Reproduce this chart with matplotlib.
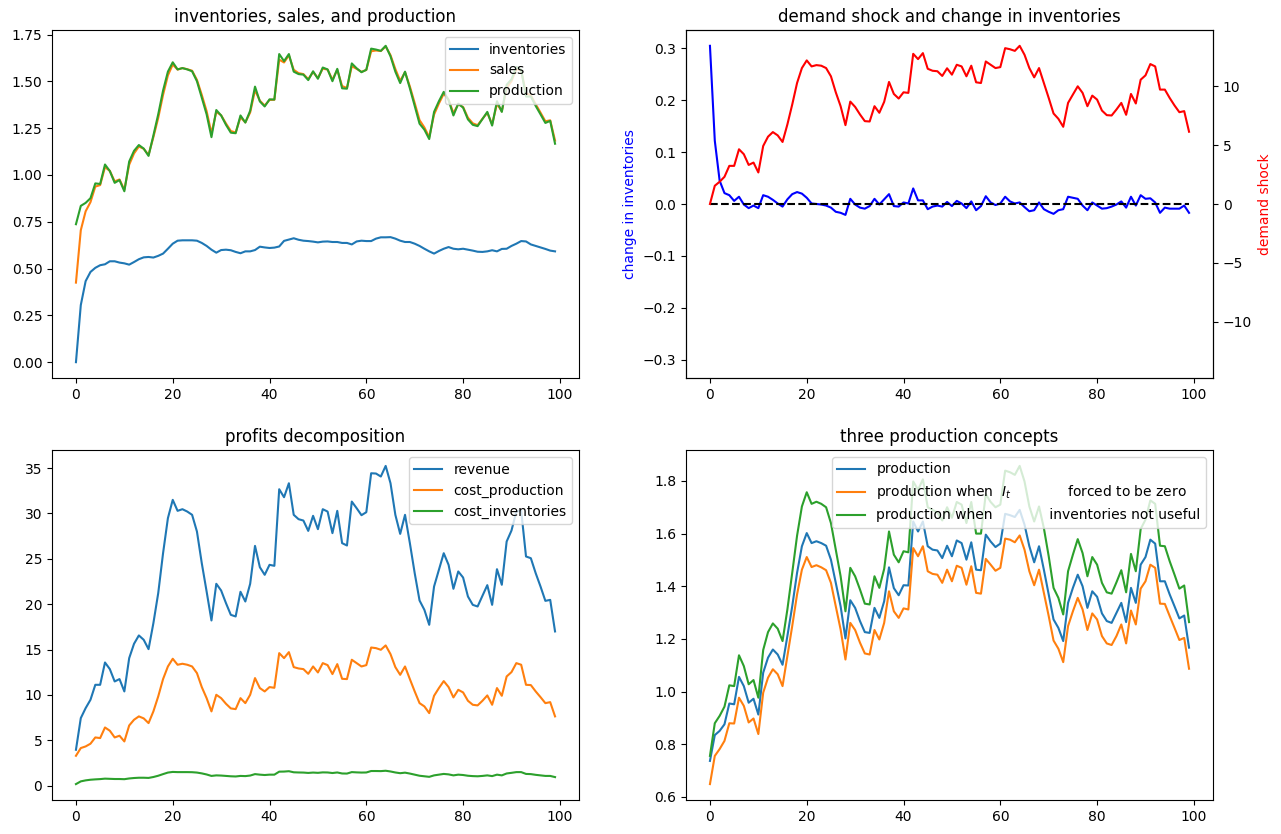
import matplotlib
matplotlib.use("Agg")
import matplotlib.pyplot as plt
import numpy as np

t = np.arange(100)

production = [
    0.737, 0.835, 0.851, 0.876, 0.955, 0.952, 1.056, 1.021, 0.958, 0.973,
    0.913, 1.072, 1.129, 1.160, 1.141, 1.102, 1.211, 1.324, 1.451, 1.552,
    1.602, 1.564, 1.571, 1.564, 1.554, 1.501, 1.413, 1.324, 1.202, 1.347,
    1.318, 1.268, 1.226, 1.223, 1.318, 1.280, 1.343, 1.472, 1.393, 1.366,
    1.404, 1.403, 1.646, 1.608, 1.646, 1.552, 1.539, 1.536, 1.507, 1.554,
    1.514, 1.574, 1.564, 1.501, 1.567, 1.463, 1.461, 1.596, 1.570, 1.549,
    1.562, 1.675, 1.670, 1.663, 1.690, 1.634, 1.552, 1.491, 1.552, 1.463,
    1.369, 1.274, 1.242, 1.192, 1.337, 1.394, 1.444, 1.400, 1.318, 1.381,
    1.360, 1.297, 1.268, 1.261, 1.299, 1.337, 1.264, 1.394, 1.337, 1.482,
    1.511, 1.577, 1.562, 1.419, 1.419, 1.369, 1.324, 1.278, 1.289, 1.167]

sales = [
    0.425, 0.705, 0.806, 0.855, 0.938, 0.946, 1.042, 1.022, 0.966, 0.976,
    0.921, 1.055, 1.115, 1.152, 1.140, 1.107, 1.202, 1.305, 1.428, 1.532,
    1.590, 1.563, 1.571, 1.565, 1.557, 1.508, 1.428, 1.341, 1.223, 1.337,
    1.319, 1.275, 1.235, 1.227, 1.308, 1.281, 1.334, 1.453, 1.397, 1.371,
    1.401, 1.402, 1.616, 1.601, 1.639, 1.562, 1.544, 1.539, 1.512, 1.550,
    1.518, 1.568, 1.563, 1.509, 1.562, 1.475, 1.465, 1.581, 1.567, 1.551,
    1.561, 1.661, 1.665, 1.662, 1.687, 1.640, 1.566, 1.503, 1.549, 1.473,
    1.384, 1.293, 1.254, 1.202, 1.323, 1.382, 1.434, 1.403, 1.330, 1.378,
    1.363, 1.306, 1.276, 1.266, 1.300, 1.332, 1.271, 1.380, 1.340, 1.465,
    1.501, 1.566, 1.559, 1.436, 1.426, 1.378, 1.333, 1.287, 1.292, 1.184]

inventories = [
    0.000, 0.305, 0.433, 0.482, 0.504, 0.518, 0.523, 0.539, 0.539, 0.532,
    0.528, 0.521, 0.535, 0.550, 0.560, 0.562, 0.559, 0.568, 0.580, 0.606,
    0.633, 0.649, 0.651, 0.651, 0.651, 0.649, 0.637, 0.621, 0.601, 0.585,
    0.599, 0.601, 0.598, 0.589, 0.582, 0.592, 0.592, 0.599, 0.617, 0.613,
    0.610, 0.612, 0.618, 0.648, 0.655, 0.662, 0.654, 0.649, 0.647, 0.644,
    0.640, 0.644, 0.645, 0.642, 0.642, 0.637, 0.637, 0.629, 0.645, 0.649,
    0.647, 0.647, 0.660, 0.667, 0.667, 0.668, 0.660, 0.649, 0.642, 0.642,
    0.633, 0.621, 0.606, 0.592, 0.580, 0.594, 0.606, 0.615, 0.606, 0.603,
    0.606, 0.601, 0.596, 0.590, 0.589, 0.592, 0.598, 0.592, 0.605, 0.606,
    0.621, 0.633, 0.647, 0.645, 0.629, 0.621, 0.613, 0.605, 0.596, 0.592]

change_inventories = [
    0.305, 0.122, 0.045, 0.021, 0.017, 0.006, 0.014, -0.001, -0.008, -0.003,
    -0.008, 0.017, 0.014, 0.008, 0.001, -0.005, 0.009, 0.019, 0.023, 0.020,
    0.012, 0.001, 0.000, -0.001, -0.003, -0.007, -0.015, -0.017, -0.021, 0.010,
    -0.001, -0.007, -0.009, -0.004, 0.010, -0.001, 0.009, 0.019, -0.004, -0.005,
    0.003, 0.001, 0.030, 0.007, 0.007, -0.010, -0.005, -0.003, -0.005, 0.004,
    -0.004, 0.006, 0.001, -0.008, 0.005, -0.012, -0.004, 0.015, 0.003, -0.002,
    0.001, 0.014, 0.005, 0.001, 0.003, -0.006, -0.014, -0.012, 0.003, -0.010,
    -0.015, -0.019, -0.012, -0.010, 0.014, 0.012, 0.010, -0.003, -0.012, 0.003,
    -0.003, -0.009, -0.008, -0.005, -0.001, 0.005, -0.007, 0.014, -0.003, 0.017,
    0.010, 0.011, 0.003, -0.017, -0.007, -0.009, -0.009, -0.009, -0.003, -0.017]

demand_shock = [
    0.0, 1.55, 1.89, 2.31, 3.24, 3.24, 4.65, 4.23, 3.32, 3.52,
    2.68, 4.93, 5.72, 6.11, 5.83, 5.27, 6.76, 8.45, 10.28, 11.55,
    12.20, 11.69, 11.80, 11.75, 11.55, 10.85, 9.49, 8.31, 6.70, 8.70,
    8.25, 7.61, 7.04, 7.01, 8.31, 7.75, 8.68, 10.37, 9.35, 8.96,
    9.49, 9.44, 12.76, 12.31, 12.82, 11.49, 11.32, 11.28, 10.88, 11.53,
    10.99, 11.83, 11.69, 10.85, 11.75, 10.34, 10.28, 12.11, 11.83, 11.55,
    11.63, 13.24, 13.15, 13.01, 13.44, 12.68, 11.55, 10.76, 11.55, 10.28,
    9.01, 7.69, 7.24, 6.56, 8.59, 9.30, 10.00, 9.44, 8.31, 9.21,
    8.87, 7.94, 7.55, 7.52, 8.03, 8.59, 7.58, 9.35, 8.54, 10.56,
    10.93, 11.89, 11.69, 9.72, 9.72, 9.01, 8.37, 7.80, 7.89, 6.14]

revenue = [
    3.96, 7.45, 8.55, 9.47, 11.12, 11.12, 13.58, 12.85, 11.49, 11.75,
    10.39, 14.06, 15.64, 16.56, 16.08, 15.05, 17.91, 21.22, 25.62, 29.48,
    31.50, 30.29, 30.47, 30.21, 29.85, 28.01, 24.52, 21.40, 18.21, 22.25,
    21.51, 20.12, 18.83, 18.65, 21.37, 20.30, 22.25, 26.43, 24.08, 23.24,
    24.34, 24.23, 32.67, 31.79, 33.33, 29.85, 29.37, 29.22, 28.08, 29.74,
    28.27, 30.47, 30.21, 27.83, 30.29, 26.73, 26.47, 31.31, 30.58, 29.81,
    30.14, 34.43, 34.40, 34.07, 35.24, 33.33, 29.85, 27.75, 29.85, 26.73,
    23.42, 20.41, 19.38, 17.73, 21.95, 23.79, 25.62, 24.34, 21.70, 23.61,
    22.94, 20.85, 19.93, 19.75, 20.93, 22.10, 19.93, 23.86, 22.14, 26.91,
    28.12, 30.21, 30.32, 25.26, 25.07, 23.42, 21.95, 20.37, 20.48, 17.00]

cost_production = [
    3.30, 4.15, 4.33, 4.63, 5.32, 5.25, 6.42, 6.06, 5.32, 5.51,
    4.88, 6.64, 7.27, 7.64, 7.42, 6.90, 8.19, 9.84, 11.75, 13.14,
    13.99, 13.33, 13.44, 13.33, 13.14, 12.41, 10.87, 9.65, 8.19, 10.02,
    9.65, 9.03, 8.52, 8.44, 9.65, 9.10, 10.02, 11.86, 10.76, 10.39,
    10.87, 10.79, 14.61, 14.06, 14.72, 13.07, 12.92, 12.85, 12.33, 13.14,
    12.48, 13.51, 13.29, 12.30, 13.40, 11.78, 11.75, 13.88, 13.51, 13.14,
    13.29, 15.23, 15.16, 14.98, 15.46, 14.50, 13.07, 12.22, 13.14, 11.75,
    10.39, 9.10, 8.74, 8.00, 9.91, 10.76, 11.53, 10.87, 9.73, 10.57,
    10.28, 9.36, 8.92, 8.85, 9.36, 9.95, 8.92, 10.76, 9.91, 12.04,
    12.52, 13.51, 13.33, 11.12, 11.09, 10.39, 9.76, 9.10, 9.21, 7.64]

cost_inventories = [
    0.18, 0.48, 0.59, 0.66, 0.70, 0.73, 0.78, 0.76, 0.74, 0.74,
    0.72, 0.80, 0.85, 0.88, 0.88, 0.86, 0.96, 1.10, 1.28, 1.45,
    1.52, 1.50, 1.50, 1.50, 1.49, 1.45, 1.36, 1.24, 1.08, 1.14,
    1.12, 1.08, 1.04, 1.02, 1.08, 1.06, 1.12, 1.28, 1.22, 1.18,
    1.22, 1.22, 1.55, 1.56, 1.60, 1.48, 1.46, 1.45, 1.41, 1.45,
    1.42, 1.47, 1.46, 1.40, 1.46, 1.35, 1.34, 1.50, 1.47, 1.45,
    1.46, 1.62, 1.62, 1.61, 1.65, 1.57, 1.46, 1.38, 1.44, 1.34,
    1.22, 1.10, 1.04, 0.98, 1.14, 1.22, 1.30, 1.25, 1.14, 1.22,
    1.18, 1.10, 1.06, 1.04, 1.08, 1.14, 1.06, 1.22, 1.14, 1.35,
    1.42, 1.50, 1.50, 1.30, 1.28, 1.20, 1.14, 1.08, 1.08, 0.95]

production_zero_inv = [
    0.649, 0.756, 0.782, 0.813, 0.880, 0.879, 0.977, 0.946, 0.883, 0.898,
    0.839, 0.996, 1.053, 1.085, 1.066, 1.021, 1.135, 1.249, 1.369, 1.463,
    1.511, 1.473, 1.480, 1.472, 1.461, 1.413, 1.324, 1.236, 1.122, 1.261,
    1.234, 1.186, 1.145, 1.141, 1.234, 1.198, 1.261, 1.381, 1.305, 1.280,
    1.316, 1.312, 1.545, 1.514, 1.552, 1.457, 1.447, 1.444, 1.413, 1.463,
    1.419, 1.478, 1.470, 1.406, 1.476, 1.375, 1.372, 1.504, 1.482, 1.459,
    1.470, 1.581, 1.577, 1.567, 1.593, 1.539, 1.457, 1.404, 1.463, 1.375,
    1.287, 1.194, 1.163, 1.112, 1.249, 1.305, 1.356, 1.312, 1.234, 1.297,
    1.274, 1.211, 1.183, 1.177, 1.211, 1.255, 1.183, 1.308, 1.255, 1.391,
    1.419, 1.482, 1.470, 1.334, 1.333, 1.287, 1.242, 1.196, 1.204, 1.087]

production_no_inv_use = [
    0.756, 0.880, 0.908, 0.943, 1.024, 1.021, 1.138, 1.097, 1.028, 1.044,
    0.977, 1.158, 1.226, 1.259, 1.239, 1.192, 1.312, 1.451, 1.592, 1.703,
    1.757, 1.713, 1.721, 1.713, 1.700, 1.640, 1.539, 1.438, 1.305, 1.470,
    1.438, 1.388, 1.334, 1.331, 1.438, 1.394, 1.466, 1.608, 1.520, 1.491,
    1.533, 1.529, 1.798, 1.766, 1.806, 1.700, 1.690, 1.680, 1.650, 1.700,
    1.660, 1.720, 1.710, 1.640, 1.720, 1.600, 1.600, 1.750, 1.720, 1.700,
    1.710, 1.839, 1.833, 1.823, 1.857, 1.798, 1.703, 1.646, 1.703, 1.621,
    1.514, 1.394, 1.356, 1.293, 1.457, 1.520, 1.579, 1.526, 1.438, 1.511,
    1.482, 1.413, 1.377, 1.372, 1.415, 1.461, 1.377, 1.523, 1.457, 1.617,
    1.653, 1.726, 1.713, 1.554, 1.552, 1.495, 1.444, 1.391, 1.403, 1.264]

zero_line = [0.0] * 100

W, H = 1281, 834
fig = plt.figure(figsize=(W / 100, H / 100), dpi=100)

def axes_px(x0, y0, x1, y1):
    return fig.add_axes([x0 / W, 1 - y1 / H, (x1 - x0) / W, (y1 - y0) / H])

ax1 = axes_px(52, 30, 579, 378)
ax2 = axes_px(686, 30, 1213, 378)
ax3 = axes_px(52, 450, 579, 800)
ax4 = axes_px(686, 450, 1213, 800)

ax1.plot(t, inventories, label="inventories")
ax1.plot(t, sales, label="sales")
ax1.plot(t, production, label="production")
ax1.set_title("inventories, sales, and production")
ax1.legend(loc="upper right")

ax2.plot(t, change_inventories, color="b")
ax2.plot(t, zero_line, "k--")
lim_l = max(abs(v) for v in change_inventories) * 1.1
ax2.set_ylim(-lim_l, lim_l)
ax2.set_ylabel("change in inventories", color="b")
ax2.set_title("demand shock and change in inventories")
ax2r = ax2.twinx()
ax2r.plot(t, demand_shock, color="r")
lim_r = max(abs(v) for v in demand_shock) * 1.1
ax2r.set_ylim(-lim_r, lim_r)
ax2r.set_ylabel("demand shock", color="r")

ax3.plot(t, revenue, label="revenue")
ax3.plot(t, cost_production, label="cost_production")
ax3.plot(t, cost_inventories, label="cost_inventories")
ax3.set_title("profits decomposition")
ax3.legend(loc="upper right")

gap = " " * 13
ax4.plot(t, production, label="production")
ax4.plot(t, production_zero_inv, label="production when  $I_t$" + gap + "forced to be zero")
ax4.plot(t, production_no_inv_use, label="production when" + gap + "inventories not useful")
ax4.set_title("three production concepts")
ax4.legend(loc="upper right")

fig.savefig("out.png", dpi=100)
